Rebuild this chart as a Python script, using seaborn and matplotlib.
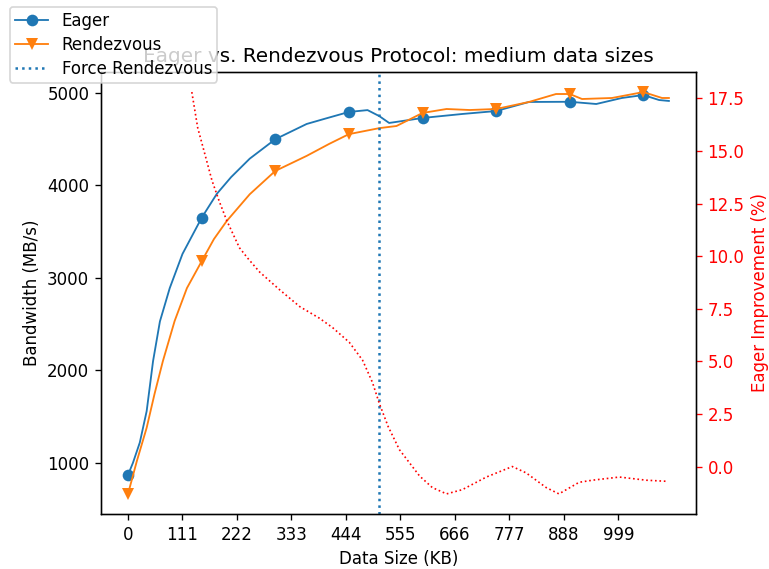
import numpy as np
import matplotlib
matplotlib.use('Agg')
import matplotlib.pyplot as plt
import seaborn as sns

# Eager protocol bandwidth (MB/s) vs data size (KB)
eager_kb = [0, 10, 24, 38, 51, 65, 85, 111, 150, 181, 210, 248, 300, 364, 400,
            450, 488, 512, 532, 559, 600, 681, 750, 817, 900, 954, 1006, 1050,
            1082, 1102]
eager_bw = [870, 1000, 1220, 1560, 2100, 2530, 2890, 3260, 3650, 3910, 4090, 4290,
            4500, 4665, 4720, 4795, 4815, 4750, 4676, 4697, 4730, 4773, 4805, 4903,
            4905, 4881, 4946, 4978, 4924, 4914]

# Rendezvous protocol bandwidth (MB/s)
rend_kb = [0, 18, 38, 54, 71, 95, 120, 150, 175, 201, 248, 300, 364, 410, 450,
           512, 547, 600, 649, 696, 750, 817, 872, 900, 925, 986, 1050, 1088, 1102]
rend_bw = [665, 1020, 1380, 1745, 2100, 2535, 2890, 3180, 3420, 3615, 3905, 4157,
           4320, 4450, 4555, 4620, 4643, 4784, 4827, 4816, 4827, 4903, 4989, 4989,
           4935, 4946, 5010, 4946, 4946]

# Eager improvement over rendezvous (%)
impr_kb = [130, 142, 156, 171, 186, 201, 227, 244, 268, 309, 350, 390, 417, 451,
           478, 498, 512, 530, 553, 594, 620, 649, 681, 730, 783, 811, 852, 878,
           919, 946, 1001, 1056, 1096]
impr_pct = [17.8, 16.1, 14.9, 13.6, 12.6, 11.7, 10.4, 9.9, 9.25, 8.4, 7.6, 7.05,
            6.6, 5.9, 5.05, 4.0, 3.0, 1.9, 0.8, -0.45, -1.0, -1.3, -1.1, -0.5, 0.0,
            -0.3, -1.0, -1.3, -0.75, -0.65, -0.5, -0.65, -0.7]

marker_kb = [0, 150, 300, 450, 600, 750, 900, 1050]
force_rendezvous_kb = 512
xtick_vals = [0, 111, 222, 333, 444, 555, 666, 777, 888, 999]
right_ticks = [0.0, 2.5, 5.0, 7.5, 10.0, 12.5, 15.0, 17.5]

fig, ax = plt.subplots(figsize=(769 / 120, 569 / 120), dpi=120)
fig.subplots_adjust(left=0.1313, right=0.905, top=0.8735, bottom=0.0967)

eager_marks = [eager_kb.index(k) for k in marker_kb]
rend_marks = [rend_kb.index(k) for k in marker_kb]

sns.lineplot(x=eager_kb, y=eager_bw, ax=ax, color='C0', lw=1.1, marker='o',
             markersize=7, markevery=eager_marks, markeredgecolor='C0',
             markeredgewidth=0, sort=False, label='Eager')
sns.lineplot(x=rend_kb, y=rend_bw, ax=ax, color='C1', lw=1.1, marker='v',
             markersize=7.5, markevery=rend_marks, markeredgecolor='C1',
             markeredgewidth=0, sort=False, label='Rendezvous')
ax.axvline(force_rendezvous_kb, color='C0', linestyle=':', lw=1.5,
           label='Force Rendezvous')

ax.set_xticks(xtick_vals)
ax.set_xlabel('Data Size (KB)')
ax.set_ylabel('Bandwidth (MB/s)')
ax.set_title('Eager vs. Rendezvous Protocol: medium data sizes')

ax2 = ax.twinx()
sns.lineplot(x=impr_kb, y=impr_pct, ax=ax2, color='red', linestyle=':', lw=1.0,
             sort=False, legend=False)
ax2.set_yticks(right_ticks)
ax2.set_ylabel('Eager Improvement (%)', color='red')
ax2.tick_params(axis='y', colors='red')
ax2.spines['right'].set_color('black')

handles, labels = ax.get_legend_handles_labels()
if ax.get_legend() is not None:
    ax.get_legend().remove()
fig.legend(handles, labels, loc='upper left', bbox_to_anchor=(10 / 769, 1 - 7 / 569),
           borderaxespad=0, labelspacing=0.35, borderpad=0.3)

plt.savefig('out.png', dpi=120)
